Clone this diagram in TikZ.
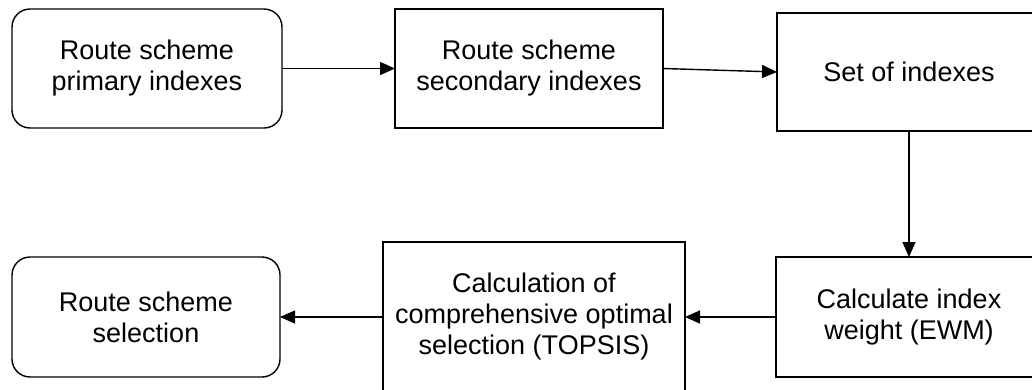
\documentclass[tikz,border=0pt]{standalone}
\usepackage{fontspec}
\setmainfont{Liberation Sans}
\usetikzlibrary{arrows.meta}
\begin{document}
\begin{tikzpicture}[x=1pt,y=-1pt,
  box/.style={draw, line width=1.4pt, inner sep=0pt, outer sep=0pt, align=center,
    font=\fontsize{27}{31}\selectfont},
  rbox/.style={box, rounded corners=18pt},
  arr/.style={line width=1.4pt, -{Triangle[length=15pt,width=13pt]}}]
\useasboundingbox (0,0) rectangle (1032,389);
\clip (0,0) rectangle (1032,389);
\node[rbox, minimum width=270pt, minimum height=119pt] (b1) at (147,68.5) {Route scheme\\primary indexes};
\node[box, minimum width=268pt, minimum height=119pt] (b2) at (529,68.5) {Route scheme\\secondary indexes};
\node[box, minimum width=264pt, minimum height=118pt] (b3) at (909,72) {Set of indexes};
\node[box, minimum width=266pt, minimum height=120pt] (b4) at (909,317) {Calculate index\\weight (EWM)};
\node[box, minimum width=302pt, minimum height=150pt] (b5) at (534,317) {Calculation of\\comprehensive optimal\\selection (TOPSIS)};
\node[rbox, minimum width=268pt, minimum height=120pt] (b6) at (146,317) {Route scheme\\selection};
\draw[arr] (b1.east) -- (b2.west);
\draw[arr] (b2.east) -- (b3.west);
\draw[arr] (b3.south) -- (b4.north);
\draw[arr] (b4.west) -- (b5.east);
\draw[arr] (b5.west) -- (b6.east);
\end{tikzpicture}
\end{document}
